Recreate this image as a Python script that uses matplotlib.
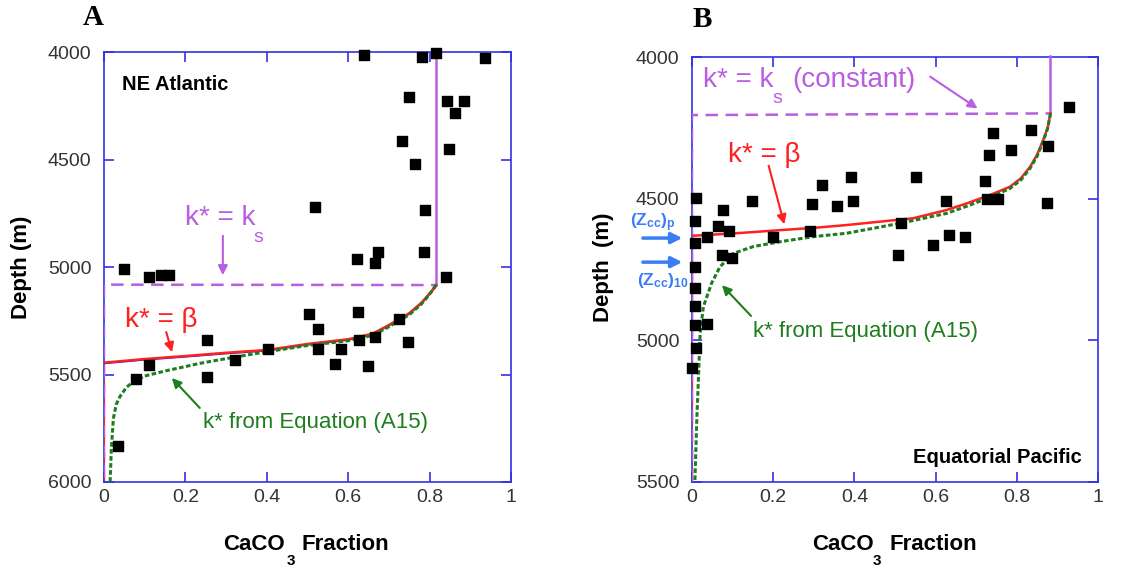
import matplotlib
matplotlib.use('Agg')
import matplotlib.pyplot as plt

plt.rcParams['font.family'] = ['Liberation Sans', 'DejaVu Sans']
plt.rcParams['mathtext.fontset'] = 'custom'
plt.rcParams['mathtext.rm'] = 'Liberation Sans'
plt.rcParams['mathtext.bf'] = 'Liberation Sans:bold'
plt.rcParams['mathtext.it'] = 'Liberation Sans:italic'

# 色
AXBLUE = '#3232e6'
MAG = '#b85ee0'
RED = '#ff2020'
GREEN = '#1e7d1e'
ZBLUE = '#3a7df5'
TICKC = '#333333'

# --- パネルA: NE Atlantic ---
a_frac = [0.639, 0.781, 0.816, 0.936, 0.749, 0.844, 0.885, 0.863, 0.731, 0.847,
          0.763, 0.519, 0.788, 0.622, 0.674, 0.666, 0.786, 0.049, 0.111, 0.140,
          0.160, 0.841, 0.034, 0.078, 0.111, 0.252, 0.252, 0.321, 0.403, 0.503,
          0.527, 0.527, 0.567, 0.582, 0.624, 0.627, 0.649, 0.666, 0.724, 0.746]
a_depth = [4015, 4022, 4003, 4026, 4211, 4226, 4226, 4282, 4414, 4453,
           4519, 4721, 4736, 4964, 4932, 4980, 4932, 5008, 5048, 5037,
           5037, 5048, 5831, 5520, 5456, 5338, 5510, 5434, 5383, 5219,
           5287, 5383, 5453, 5381, 5209, 5340, 5459, 5324, 5242, 5347]

# k* = ks (一定)
a_ks_x = [0.816, 0.816, 0.0, 0.0]
a_ks_d = [4000, 5084, 5082, 6000]
# k* = beta
a_beta_x = [0.816, 0.805, 0.79, 0.78, 0.75, 0.70, 0.66, 0.60, 0.50, 0.40, 0.30, 0.20, 0.10, 0.0]
a_beta_d = [5084, 5112, 5145, 5166, 5215, 5270, 5310, 5336, 5358, 5386, 5399, 5414, 5428, 5445]
# k* from Equation (A15)
a_eq_x = [0.816, 0.805, 0.79, 0.78, 0.75, 0.70, 0.66, 0.60, 0.50, 0.40, 0.318, 0.236,
          0.154, 0.10, 0.072, 0.055, 0.039, 0.030, 0.023, 0.018, 0.015]
a_eq_d = [5084, 5114, 5150, 5172, 5222, 5278, 5318, 5343, 5365, 5394, 5420, 5448,
          5482, 5507, 5533, 5560, 5603, 5640, 5705, 5850, 6000]

# --- パネルB: Equatorial Pacific ---
b_frac = [0.929, 0.741, 0.835, 0.877, 0.785, 0.732, 0.721, 0.727, 0.754, 0.874,
          0.552, 0.626, 0.391, 0.319, 0.397, 0.357, 0.296, 0.147, 0.011, 0.077,
          0.008, 0.064, 0.092, 0.038, 0.008, 0.200, 0.291, 0.515, 0.632, 0.672,
          0.594, 0.508, 0.073, 0.099, 0.008, 0.008, 0.008, 0.008, 0.036, 0.011,
          0.000]
b_depth = [4178, 4269, 4257, 4314, 4328, 4345, 4438, 4500, 4500, 4516,
           4424, 4508, 4424, 4453, 4508, 4525, 4520, 4507, 4499, 4541,
           4578, 4595, 4615, 4634, 4658, 4635, 4615, 4586, 4628, 4636,
           4664, 4700, 4700, 4711, 4742, 4816, 4879, 4946, 4942, 5026,
           5099]

b_ks_x = [0.883, 0.883, 0.0, 0.0]
b_ks_d = [3995, 4199, 4205, 5500]
b_beta_x = [0.883, 0.876, 0.865, 0.85, 0.833, 0.81, 0.783, 0.734, 0.68, 0.627, 0.545,
            0.45, 0.381, 0.30, 0.217, 0.10, 0.0]
b_beta_d = [4199, 4250, 4293, 4345, 4387, 4428, 4458, 4487, 4515, 4540, 4569,
            4583, 4593, 4603, 4611, 4623, 4631]
b_eq_x = [0.883, 0.876, 0.865, 0.85, 0.833, 0.81, 0.783, 0.734, 0.68, 0.627, 0.512,
          0.381, 0.299, 0.217, 0.151, 0.102, 0.069, 0.048, 0.028, 0.020, 0.016,
          0.012, 0.007]
b_eq_d = [4199, 4252, 4297, 4350, 4392, 4434, 4464, 4495, 4525, 4552, 4587,
          4622, 4634, 4652, 4669, 4693, 4740, 4799, 4881, 4975, 5128,
          5270, 5501]

frac_ticks = [0, 0.2, 0.4, 0.6, 0.8, 1]
frac_labels = ['0', '0.2', '0.4', '0.6', '0.8', '1']

fig = plt.figure(figsize=(11.28, 5.69), dpi=100)
ax1 = fig.add_axes([0.0922, 0.1529, 0.3608, 0.7557])
ax2 = fig.add_axes([0.6135, 0.1529, 0.3599, 0.7469])


def style_axes(ax, yticks, ylim):
    ax.set_xlim(0, 1)
    ax.set_ylim(*ylim)
    ax.set_xticks(frac_ticks)
    ax.set_xticklabels(frac_labels)
    ax.set_yticks(yticks)
    for s in ax.spines.values():
        s.set_color(AXBLUE)
        s.set_linewidth(1.2)
    ax.tick_params(direction='in', length=7, width=1.2, color=AXBLUE,
                   labelcolor=TICKC, labelsize=14, top=True, right=True)
    ax.tick_params(axis='y', pad=9)
    ax.tick_params(axis='x', pad=5)


def draw_curves(ax, ks_x, ks_d, beta_x, beta_d, eq_x, eq_d, bottom, blue_under=True):
    # 破線部分 (x=0)
    ax.plot([0, 0], [beta_d[-1], bottom], color=RED, lw=1.6, ls=(0, (5, 3)), zorder=3)
    ax.plot(ks_x[:2], ks_d[:2], color=MAG, lw=1.8, zorder=3, clip_on=False)
    ax.plot(ks_x[1:], ks_d[1:], color=MAG, lw=1.8, ls=(3, (5, 3)), zorder=3)
    if blue_under:
        ax.plot(beta_x, [d + 3 for d in beta_d], color='#2020cc', lw=1.4, zorder=3)
    ax.plot(beta_x, beta_d, color=RED, lw=1.8, zorder=4)
    ax.plot(eq_x, eq_d, color=GREEN, lw=2.2, ls=(0, (1.5, 0.8)), zorder=5)


def arrow(ax, start, end, color, lw=1.5, ms=14):
    ax.annotate('', xy=end, xytext=start, annotation_clip=False,
                arrowprops=dict(arrowstyle='-|>', color=color, lw=lw, mutation_scale=ms))


style_axes(ax1, [4000, 4500, 5000, 5500, 6000], (6000, 4000))
draw_curves(ax1, a_ks_x, a_ks_d, a_beta_x, a_beta_d, a_eq_x, a_eq_d, 6000)
ax1.scatter(a_frac, a_depth, marker='s', s=56, color='black', zorder=6, clip_on=False)

style_axes(ax2, [4000, 4500, 5000, 5500], (5500, 4000))
draw_curves(ax2, b_ks_x, b_ks_d, b_beta_x, b_beta_d, b_eq_x, b_eq_d, 5500, blue_under=False)
ax2.scatter(b_frac, b_depth, marker='s', s=56, color='black', zorder=6, clip_on=False)

# パネルAの注記
ax1.text(0.044, 4149, 'NE Atlantic', fontsize=14.5, fontweight='bold', ha='left', va='center')
ax1.text(0.199, 4805, 'k* = k', fontsize=20, color=MAG, ha='left', va='baseline')
ax1.text(0.366, 4885, 's', fontsize=14, color=MAG, ha='left', va='baseline')
arrow(ax1, (0.292, 4842), (0.292, 5051), MAG)
ax1.text(0.052, 5278, 'k* = β', fontsize=20, color=RED, ha='left', va='baseline')
arrow(ax1, (0.151, 5290), (0.169, 5409), RED)
ax1.text(0.243, 5750, 'k* from Equation (A15)', fontsize=16, color=GREEN, ha='left', va='baseline')
arrow(ax1, (0.24, 5665), (0.162, 5507), GREEN)

# パネルBの注記
ax2.text(0.027, 4106, 'k* = k', fontsize=20, color=MAG, ha='left', va='baseline')
ax2.text(0.199, 4162, 's', fontsize=14, color=MAG, ha='left', va='baseline')
ax2.text(0.246, 4106, '(constant)', fontsize=20, color=MAG, ha='left', va='baseline')
arrow(ax2, (0.581, 4064), (0.709, 4187), MAG)
ax2.text(0.089, 4371, 'k* = β', fontsize=20, color=RED, ha='left', va='baseline')
arrow(ax2, (0.187, 4374), (0.229, 4600), RED)
ax2.text(0.150, 4988, 'k* from Equation (A15)', fontsize=16, color=GREEN, ha='left', va='baseline')
arrow(ax2, (0.150, 4921), (0.069, 4798), GREEN)
ax2.text(0.961, 5433, 'Equatorial Pacific', fontsize=14.5, fontweight='bold', ha='right', va='baseline')

# (Zcc) 矢印
ax2.text(-0.153, 4599, r'$\mathbf{(Z_{cc})_p}$', fontsize=12.5, color=ZBLUE, ha='left', va='baseline')
ax2.text(-0.135, 4805, r'$\mathbf{(Z_{cc})_{10}}$', fontsize=12.5, color=ZBLUE, ha='left', va='baseline')
for zd in [4639, 4724]:
    arrow(ax2, (-0.128, zd), (-0.017, zd), ZBLUE, lw=2.5, ms=16)

# 軸ラベル
fig.text(0.0195, 0.530, 'Depth (m)', rotation=90, fontsize=16, fontweight='bold', ha='center', va='center')
fig.text(0.5346, 0.530, 'Depth  (m)', rotation=90, fontsize=16, fontweight='bold', ha='center', va='center')
for x_main, x_sub, x_rest in [(0.1977, 0.2544, 0.2677), (0.7196, 0.7739, 0.7890)]:
    fig.text(x_main, 0.0422, 'CaCO', fontsize=16, fontweight='bold', ha='left', va='center')
    fig.text(x_sub, 0.0141, '3', fontsize=11, fontweight='bold', ha='left', va='center')
    fig.text(x_rest, 0.0422, 'Fraction', fontsize=16, fontweight='bold', ha='left', va='center')

# パネル記号
fig.text(0.0825, 0.970, 'A', fontsize=21, fontweight='bold', family='Liberation Serif', ha='center', va='center')
fig.text(0.6223, 0.966, 'B', fontsize=21, fontweight='bold', family='Liberation Serif', ha='center', va='center')

fig.savefig('out.png', dpi=100)
